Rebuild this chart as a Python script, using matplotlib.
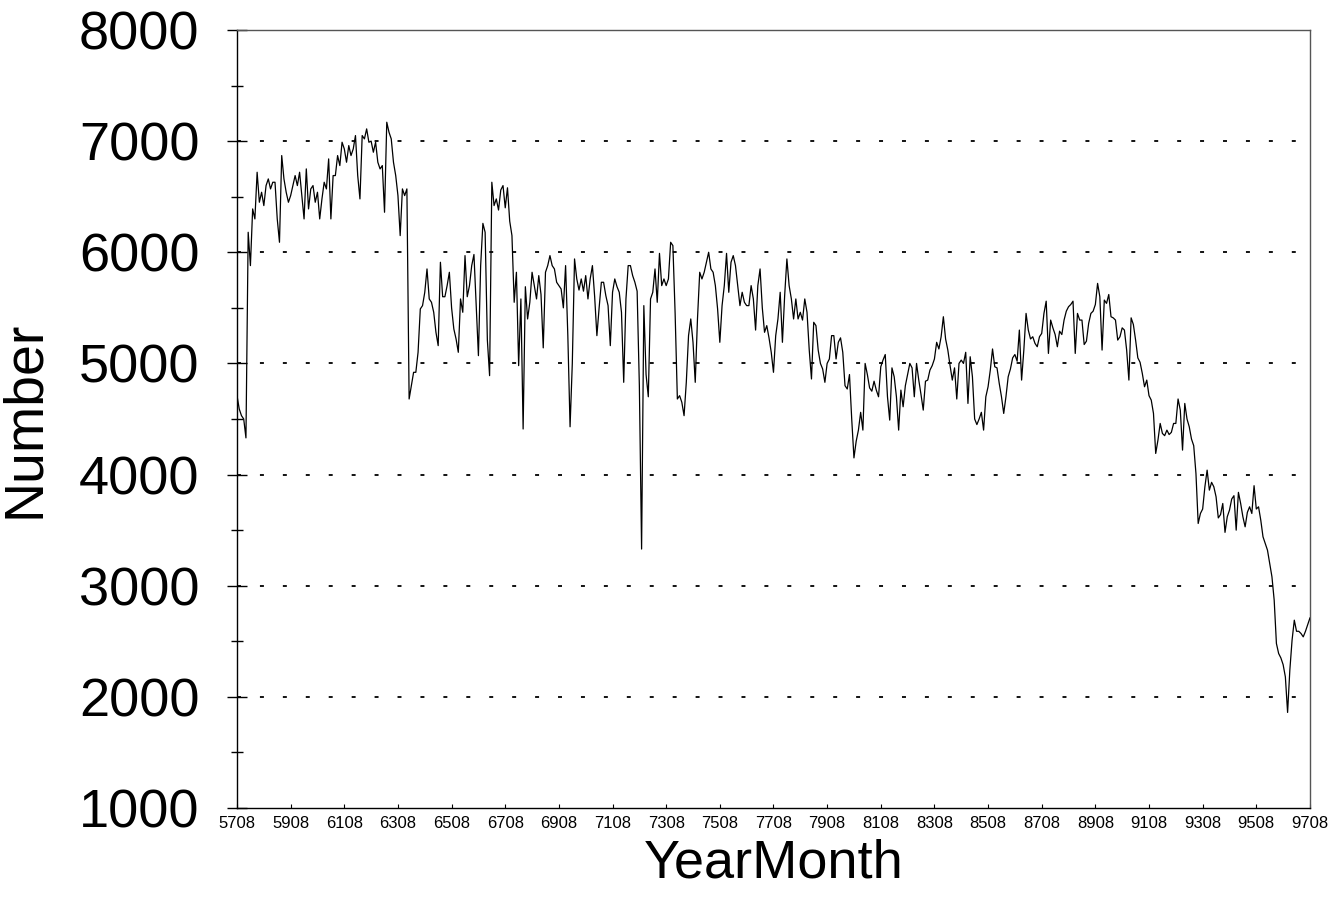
import numpy as np
import matplotlib
matplotlib.use('Agg')
import matplotlib.pyplot as plt

# monthly values, starting at 5708 (Aug 1957)
counts_57_67 = [
    4710, 4590, 4530, 4500, 4330, 6180, 5880, 6390, 6300, 6720, 6450, 6540,
    6420, 6600, 6660, 6570, 6630, 6630, 6300, 6090, 6870, 6660, 6540, 6450,
    6510, 6600, 6690, 6600, 6720, 6510, 6300, 6750, 6390, 6570, 6600, 6450,
    6540, 6300, 6480, 6630, 6570, 6840, 6300, 6690, 6690, 6870, 6780, 6990,
    6930, 6810, 6960, 6870, 6930, 7050, 6690, 6480, 7050, 7020, 7110, 6990,
    7000, 6900, 6990, 6810, 6750, 6780, 6360, 7170, 7080, 7020, 6810, 6690,
    6510, 6150, 6570, 6510, 6570, 4680, 4800, 4920, 4920, 5100, 5490, 5520,
    5640, 5850, 5580, 5550, 5460, 5280, 5160, 5910, 5600, 5600, 5700, 5820,
    5500, 5310, 5220, 5100, 5580, 5460, 5970, 5600, 5700, 5880, 5980, 5520,
    5070, 5880, 6260, 6180, 5210, 4890, 6630, 6420, 6480, 6380, 6560, 6600,
]
counts_67_77 = [
    6400, 6580, 6280, 6150, 5550, 5820, 4980, 5580, 4410, 5690, 5400, 5550,
    5820, 5700, 5580, 5790, 5620, 5140, 5820, 5880, 5970, 5880, 5850, 5730,
    5700, 5670, 5500, 5880, 5250, 4430, 5000, 5940, 5760, 5660, 5760, 5650,
    5790, 5580, 5760, 5880, 5600, 5250, 5500, 5730, 5730, 5610, 5520, 5160,
    5640, 5760, 5690, 5640, 5460, 4830, 5580, 5880, 5880, 5790, 5730, 5650,
    4800, 3330, 5520, 4900, 4700, 5580, 5640, 5850, 5550, 5990, 5700, 5760,
    5700, 5760, 6090, 6060, 5450, 4680, 4710, 4650, 4530, 4830, 5250, 5400,
    5190, 4830, 5400, 5820, 5760, 5820, 5910, 6000, 5850, 5820, 5700, 5490,
    5190, 5520, 5700, 5990, 5640, 5910, 5970, 5880, 5700, 5520, 5640, 5550,
    5520, 5520, 5700, 5580, 5300, 5700, 5850, 5500, 5280, 5340, 5230, 5100,
]
counts_77_87 = [
    4920, 5250, 5400, 5640, 5190, 5610, 5940, 5700, 5580, 5400, 5580, 5400,
    5460, 5390, 5580, 5460, 5120, 4860, 5370, 5340, 5120, 5000, 4950, 4830,
    5000, 5040, 5250, 5250, 5040, 5190, 5230, 5100, 4800, 4770, 4900, 4500,
    4150, 4300, 4400, 4560, 4400, 5000, 4900, 4780, 4750, 4840, 4760, 4700,
    4970, 5030, 5080, 4700, 4490, 4960, 4880, 4700, 4400, 4760, 4610, 4800,
    4900, 5000, 4960, 4700, 5000, 4850, 4720, 4580, 4840, 4850, 4940, 4980,
    5040, 5190, 5130, 5240, 5420, 5220, 5120, 4980, 4850, 4960, 4680, 5000,
    5030, 5000, 5100, 4640, 5060, 4880, 4500, 4450, 4500, 4560, 4400, 4700,
    4790, 4940, 5130, 4970, 4960, 4820, 4700, 4550, 4700, 4880, 4950, 5050,
    5080, 5020, 5300, 4850, 5120, 5450, 5300, 5220, 5240, 5180, 5150, 5240,
]
counts_87_97 = [
    5270, 5450, 5560, 5090, 5390, 5320, 5260, 5150, 5290, 5260, 5390, 5470,
    5510, 5530, 5560, 5090, 5450, 5390, 5390, 5170, 5200, 5360, 5450, 5470,
    5530, 5720, 5600, 5120, 5570, 5540, 5620, 5420, 5410, 5390, 5210, 5240,
    5320, 5300, 5120, 4850, 5410, 5350, 5210, 5050, 5010, 4910, 4790, 4850,
    4710, 4670, 4550, 4190, 4310, 4460, 4370, 4350, 4400, 4360, 4380, 4460,
    4460, 4680, 4580, 4220, 4640, 4500, 4430, 4320, 4260, 4010, 3560, 3650,
    3690, 3890, 4040, 3860, 3930, 3890, 3800, 3610, 3640, 3740, 3480, 3620,
    3680, 3780, 3810, 3500, 3840, 3740, 3620, 3530, 3660, 3710, 3650, 3900,
    3690, 3710, 3590, 3440, 3380, 3320, 3200, 3080, 2870, 2480, 2390, 2350,
    2290, 2180, 1860, 2240, 2510, 2690, 2590, 2590, 2570, 2540, 2590, 2650,
]
counts_9708 = [2710]

tick_labels = ['5708', '5908', '6108', '6308', '6508', '6708', '6908', '7108',
               '7308', '7508', '7708', '7908', '8108', '8308', '8508', '8708',
               '8908', '9108', '9308', '9508', '9708']
y_ticks = [1000, 2000, 3000, 4000, 5000, 6000, 7000, 8000]
grid_levels = [2000, 3000, 4000, 5000, 6000, 7000]

values = np.array(counts_57_67 + counts_67_77 + counts_77_87 + counts_87_97 + counts_9708)
months = np.arange(len(values))

plt.rcParams['font.family'] = ['Liberation Sans', 'DejaVu Sans']

fig = plt.figure(figsize=(13.36, 9), dpi=100)
ax = fig.add_axes([0.1774, 0.1022, 0.8031, 0.8645])

# dotted reference lines
for lev in grid_levels:
    ax.axhline(lev, color='black', linewidth=1.3, dashes=(2.2, 10.5), zorder=1)

ax.plot(months, values, color='black', linewidth=0.9, zorder=3)

ax.set_xlim(0, len(values) - 1)
ax.set_ylim(1000, 8000)

ax.set_yticks(y_ticks)
ax.set_yticklabels([str(v) for v in y_ticks], fontsize=39)
ax.set_yticks(np.arange(1500, 8000, 1000), minor=True)
ax.tick_params(axis='y', which='major', direction='inout', length=14, width=1, pad=20)
ax.tick_params(axis='y', which='minor', direction='inout', length=8, width=1)

ax.set_xticks(np.arange(0, len(values), 24))
ax.set_xticklabels(tick_labels, fontsize=12)
ax.tick_params(axis='x', which='major', direction='in', length=3, width=0.8, pad=6)

for sp in ax.spines.values():
    sp.set_linewidth(1.0)
    sp.set_color('black')
ax.spines['right'].set_color('#555555')
ax.spines['top'].set_color('#555555')

ax.set_xlabel('YearMonth', fontsize=39, labelpad=5)
ax.set_ylabel('Number', fontsize=40, labelpad=20)

fig.savefig('out.png', dpi=100)
plt.close(fig)
